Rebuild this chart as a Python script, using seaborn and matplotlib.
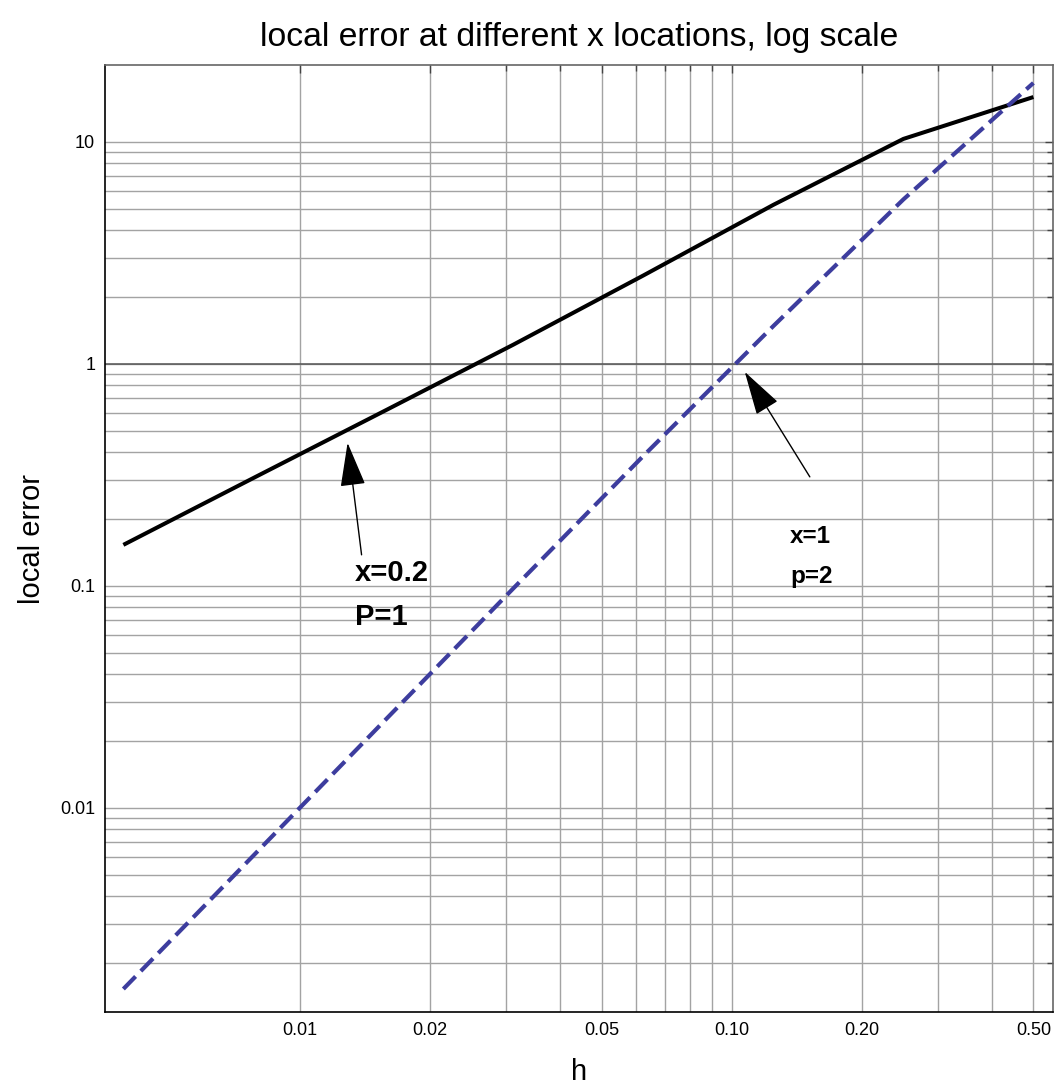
import numpy as np
import pandas as pd
import matplotlib
matplotlib.use("Agg")
import matplotlib.pyplot as plt
from matplotlib.ticker import FixedLocator, FixedFormatter, NullFormatter
import seaborn as sns

# step sizes h = 1/256 ... 1/2
h_values = [1/256, 1/128, 1/64, 1/32, 1/16, 1/8, 1/4, 1/2]
# local error at x = 0.2 (first order)
err_x02 = [0.153, 0.306, 0.61, 1.22, 2.5, 5.2, 10.3, 15.9]
# local error at x = 1 (second order)
err_x1 = [0.00153, 0.0061, 0.0244, 0.0975, 0.385, 1.48, 5.5, 18.4]

x_major = [0.01, 0.02, 0.05, 0.10, 0.20, 0.50]
x_major_labels = ["0.01", "0.02", "0.05", "0.10", "0.20", "0.50"]
x_minor = [0.03, 0.04, 0.06, 0.07, 0.08, 0.09, 0.3, 0.4]
y_major = [0.01, 0.1, 1, 10]
y_major_labels = ["0.01", "0.1", "1", "10"]

df_a = pd.DataFrame({"h": h_values, "error": err_x02})
df_b = pd.DataFrame({"h": h_values, "error": err_x1})

sns.set_style("white")
plt.rcParams["font.family"] = ["Liberation Sans", "DejaVu Sans"]
plt.rcParams["text.color"] = "black"
plt.rcParams["axes.labelcolor"] = "black"
plt.rcParams["xtick.color"] = "black"
plt.rcParams["ytick.color"] = "black"

fig = plt.figure(figsize=(10.57, 10.91), dpi=100)
ax = fig.add_axes([0.0993, 0.0724, 0.8967, 0.868])

ax.set_xscale("log")
ax.set_yscale("log")

sns.lineplot(data=df_a, x="h", y="error", ax=ax, color="black",
             linewidth=2.9, solid_capstyle="butt", legend=False)
sns.lineplot(data=df_b, x="h", y="error", ax=ax, color="#3d3d9e",
             linewidth=3.0, legend=False)
ax.lines[-1].set_dashes((4.2, 1.8))
ax.lines[-1].set_dash_capstyle("butt")

ax.set_xlim(0.003541, 0.5544)
ax.set_ylim(0.001205, 22.16)

# ticks and grid
ax.xaxis.set_major_locator(FixedLocator(x_major))
ax.xaxis.set_major_formatter(FixedFormatter(x_major_labels))
ax.xaxis.set_minor_locator(FixedLocator(x_minor))
ax.xaxis.set_minor_formatter(NullFormatter())

y_minor = [m * 10.0 ** k for k in range(-3, 1) for m in range(2, 10)]
ax.yaxis.set_major_locator(FixedLocator(y_major))
ax.yaxis.set_major_formatter(FixedFormatter(y_major_labels))
ax.yaxis.set_minor_locator(FixedLocator(y_minor))
ax.yaxis.set_minor_formatter(NullFormatter())

ax.grid(True, which="both", color="#a3a3a3", linewidth=1.0)
ax.axhline(1, color="#555555", linewidth=1.1, zorder=1)
ax.set_axisbelow(True)

ax.tick_params(which="both", direction="in", top=True, right=True,
               color="#444444", width=1)
ax.tick_params(which="major", length=6, labelsize=13, pad=7,
               labelcolor="black")
ax.tick_params(which="minor", length=4)

for side in ["left", "bottom"]:
    ax.spines[side].set_color("black")
    ax.spines[side].set_linewidth(1.2)
for side in ["top", "right"]:
    ax.spines[side].set_color("#666666")
    ax.spines[side].set_linewidth(1.2)

ax.set_title("local error at different x locations, log scale",
             fontsize=24.3, pad=14, color="black")
ax.set_xlabel("h", fontsize=21, labelpad=14)
ax.set_ylabel("local error", fontsize=21, labelpad=10)

# annotations
arrow = dict(arrowstyle="-|>,head_length=1.4,head_width=0.4",
             mutation_scale=20, color="black", lw=1, shrinkA=0, shrinkB=0)
ax.annotate("", xy=(0.01291, 0.4407), xytext=(0.01391, 0.138),
            arrowprops=arrow)
ax.text(0.01343, 0.1145, "x=0.2", fontsize=21, fontweight="bold",
        ha="left", va="center")
ax.text(0.01343, 0.0725, "P=1", fontsize=21, fontweight="bold",
        ha="left", va="center")

ax.annotate("", xy=(0.1073, 0.920), xytext=(0.1518, 0.3097),
            arrowprops=arrow)
ax.text(0.1365, 0.1663, "x=1", fontsize=17.5, fontweight="bold",
        ha="left", va="center")
ax.text(0.1365, 0.1098, "p=2", fontsize=17.5, fontweight="bold",
        ha="left", va="center")

fig.savefig("out.png", dpi=100)
